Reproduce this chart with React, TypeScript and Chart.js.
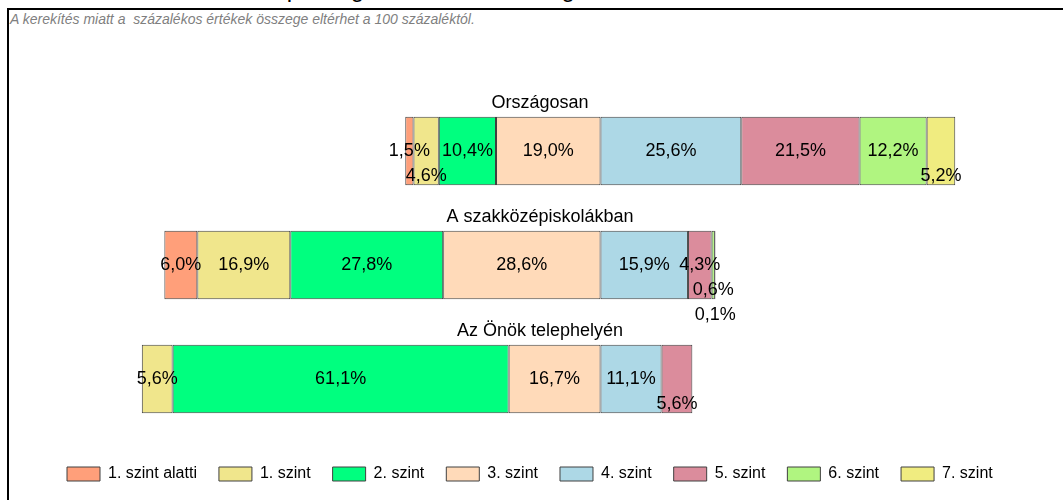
import { useEffect, useRef } from 'react';
import { Chart, registerables } from 'chart.js';

Chart.register(...registerables);

const FONT = '"Liberation Sans", Arial, sans-serif';

const categories = ['Országosan', 'A szakközépiskolákban', 'Az Önök telephelyén'];
const levelNames = ['1. szint alatti', '1. szint', '2. szint', '3. szint', '4. szint', '5. szint', '6. szint', '7. szint'];
const levelColors = ['#FF9F7A', '#F0E68C', '#00FF7F', '#FFDAB9', '#ADD8E6', '#DB8C9C', '#B0F580', '#F0EC80'];
// number of levels drawn to the left of the centre line (1. szint alatti .. 3. szint)
const LEFT_LEVEL_COUNT = 4;

const orszagosan = [1.5, 4.6, 10.4, 19.0, 25.6, 21.5, 12.2, 5.2];
const szakkozep = [6.0, 16.9, 27.8, 28.6, 15.9, 4.3, 0.6, 0.1];
const telephely = [0, 5.6, 61.1, 16.7, 11.1, 5.6, 0, 0];
const rows = [orszagosan, szakkozep, telephely];

const TITLE_TEXT = 'Matematika: a tanulók képességszintek szerinti megoszlása';
const NOTE_TEXT = 'A kerekítés miatt a  százalékos értékek összege eltérhet a 100 százaléktól.';

const fmt = (v: number) => v.toFixed(1).replace('.', ',') + '%';

const labelPlugin = {
  id: 'segmentLabels',
  afterDatasetsDraw(chart: any) {
    const ctx = chart.ctx as CanvasRenderingContext2D;
    const area = chart.chartArea;
    ctx.save();
    ctx.font = '18px ' + FONT;
    ctx.fillStyle = '#000';
    ctx.textAlign = 'center';
    ctx.textBaseline = 'middle';
    const centerX = (area.left + area.right) / 2;
    rows.forEach((row, i) => {
      const placed: Array<Array<[number, number]>> = [];
      let barTop = Infinity;
      row.forEach((value, k) => {
        const meta = chart.getDatasetMeta(k);
        const el = meta.data[i];
        if (!el) return;
        const p = el.getProps(['x', 'y', 'base', 'height'], true);
        barTop = Math.min(barTop, p.y - p.height / 2);
        if (!value) return;
        const text = fmt(value);
        const w = ctx.measureText(text).width;
        const cx = (p.x + p.base) / 2;
        const x1 = cx - w / 2;
        const x2 = cx + w / 2;
        let level = 0;
        const gap = 5;
        while (
          placed[level] &&
          placed[level].some(([a, b]) => x1 < b + gap && x2 > a - gap)
        ) {
          level++;
        }
        if (!placed[level]) placed[level] = [];
        placed[level].push([x1, x2]);
        ctx.fillText(text, cx, p.y + level * 25);
      });
      ctx.fillText(categories[i], centerX, barTop - 14);
    });
    ctx.restore();
  },
};

export default function App() {
  const canvasRef = useRef<HTMLCanvasElement | null>(null);

  useEffect(() => {
    if (!canvasRef.current) return;
    Chart.defaults.font.family = FONT;
    const datasets = levelNames.map((name, k) => ({
      label: name,
      data: rows.map((r) => (r[k] === 0 ? null : k < LEFT_LEVEL_COUNT ? -r[k] : r[k])),
      backgroundColor: levelColors[k],
      borderColor: '#404040',
      borderWidth: 1,
      borderSkipped: false,
      barPercentage: 0.6,
      categoryPercentage: 1.0,
      order: k < LEFT_LEVEL_COUNT ? LEFT_LEVEL_COUNT - 1 - k : k,
      stack: 'all',
    }));
    const chart = new Chart(canvasRef.current, {
      type: 'bar',
      data: { labels: categories, datasets },
      options: {
        indexAxis: 'y',
        animation: false,
        responsive: false,
        devicePixelRatio: 1,
        layout: { padding: { left: 45, right: 28, top: 94, bottom: 8 } },
        scales: {
          x: { stacked: true, min: -101, max: 79, display: false },
          y: { stacked: true, display: false },
        },
        plugins: {
          tooltip: { enabled: false },
          legend: {
            position: 'bottom',
            align: 'start',
            title: { display: true, text: '', font: { size: 8, lineHeight: 1 }, padding: 0 },
            labels: {
              boxWidth: 33,
              boxHeight: 14,
              padding: 22,
              color: '#000',
              font: { size: 16, family: FONT },
              sort: (a: any, b: any) => a.datasetIndex - b.datasetIndex,
            },
          },
        },
      },
      plugins: [labelPlugin],
    } as any);
    return () => chart.destroy();
  }, []);

  return (
    <div
      style={{
        position: 'fixed',
        left: 0,
        top: 0,
        width: 1063,
        height: 500,
        overflow: 'hidden',
        background: '#fff',
        fontFamily: FONT,
      }}
    >
      <div
        style={{
          position: 'absolute',
          left: 20,
          top: -23,
          fontSize: 24,
          lineHeight: '24px',
          whiteSpace: 'pre',
          color: '#000',
        }}
      >
        {TITLE_TEXT}
      </div>
      <div
        style={{
          position: 'absolute',
          left: 7,
          top: 8,
          width: 1200,
          height: 700,
          border: '2px solid #000',
          background: 'transparent',
        }}
      />
      <div
        style={{
          position: 'absolute',
          left: 10,
          top: 12,
          fontSize: 14,
          lineHeight: '14px',
          fontStyle: 'italic',
          whiteSpace: 'pre',
          color: '#7f7f7f',
        }}
      >
        {NOTE_TEXT}
      </div>
      <canvas
        ref={canvasRef}
        width={1063}
        height={500}
        style={{ position: 'absolute', left: 0, top: 0, width: 1063, height: 500, display: 'block' }}
      />
    </div>
  );
}
